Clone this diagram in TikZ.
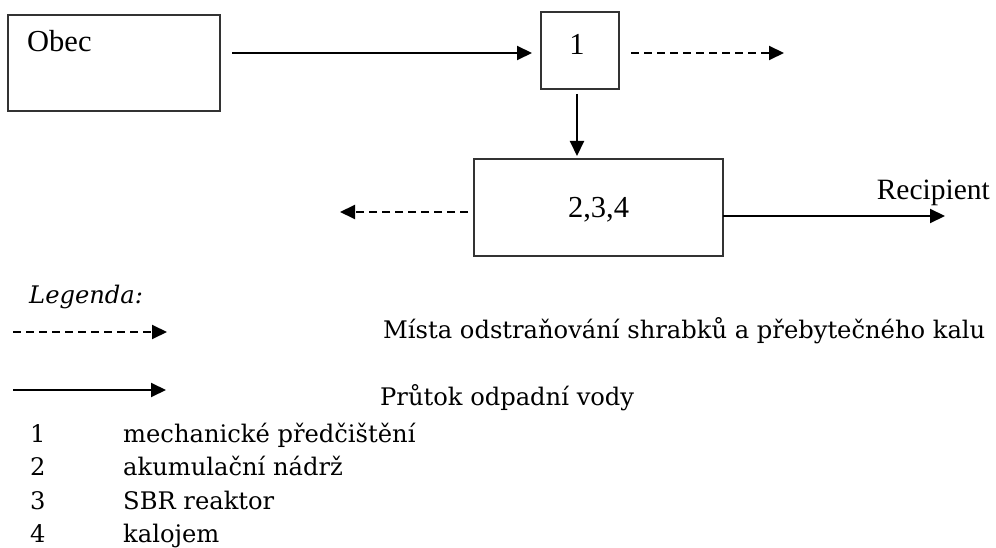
\documentclass[tikz,border=0pt]{standalone}
\usepackage{fontspec}
\setmainfont{Liberation Serif}
\newfontfamily\legfont{DejaVu Serif}
\usetikzlibrary{arrows.meta}
\tikzset{
  box/.style={draw=black!80, line width=1.3pt, minimum width=#1, inner sep=0pt},
  lbl/.style={inner sep=0pt, font=\fontsize{30.5}{36}\selectfont},
  leg/.style={inner sep=0pt, anchor=base west, font=\legfont\fontsize{24.2}{29}\selectfont},
  flow/.style={line width=2pt, -{Triangle[length=15pt,width=14pt]}},
  waste/.style={flow, dash pattern=on 8pt off 5pt},
}
\begin{document}
\begin{tikzpicture}[x=1pt,y=-1pt]
\useasboundingbox (0,0) rectangle (996,548);
% boxes
\node[box=212pt, minimum height=96pt] (obec) at (114,63) {};
\node[lbl, anchor=base west] (obect) at (27,52) {Obec};
\node[box=78pt, minimum height=77pt] (b1) at (580,50.5) {};
\node[lbl, anchor=base] (b1t) at (577,55) {1};
\node[box=249pt, minimum height=97pt] (b2) at (598.5,207.5) {};
\node[lbl, anchor=base] (b2t) at (598.5,218) {2,3,4};
\node[lbl, anchor=base east, font=\fontsize{29.5}{36}\selectfont] (rec) at (990,200) {Recipient};
% connector ends
\coordinate (o1) at (232,53);
\coordinate (i1) at (532,53);
\coordinate (d1s) at (631,53);
\coordinate (d1e) at (784,53);
\coordinate (v1) at (577,94);
\coordinate (v2) at (577,156);
\coordinate (r1) at (723,216);
\coordinate (r2) at (945,216);
\coordinate (l1) at (468,212);
\coordinate (l2) at (340,212);
\draw[flow] (o1) -- (i1);
\draw[waste] (d1s) -- (d1e);
\draw[flow] (v1) -- (v2);
\draw[flow] (r1) -- (r2);
\draw[waste] (l1) -- (l2);
% legend
\node[leg, font=\legfont\itshape\fontsize{24.2}{29}\selectfont] (legt) at (29,303) {Legenda:};
\coordinate (ld1) at (13,332);
\coordinate (ld2) at (167,332);
\coordinate (ls1) at (13,390);
\coordinate (ls2) at (166,390);
\draw[waste] (ld1) -- (ld2);
\draw[flow] (ls1) -- (ls2);
\node[leg] (lw) at (383,338) {Místa odstraňování shrabků a přebytečného kalu};
\node[leg] (lf) at (380,405) {Průtok odpadní vody};
\node[leg] (n1) at (30,442) {1};
\node[leg] (t1) at (123,442) {mechanické předčištění};
\node[leg] (n2) at (30,475.5) {2};
\node[leg] (t2) at (123,475.5) {akumulační nádrž};
\node[leg] (n3) at (30,509) {3};
\node[leg] (t3) at (123,509) {SBR reaktor};
\node[leg] (n4) at (30,542.5) {4};
\node[leg] (t4) at (123,542.5) {kalojem};
\end{tikzpicture}
\end{document}
